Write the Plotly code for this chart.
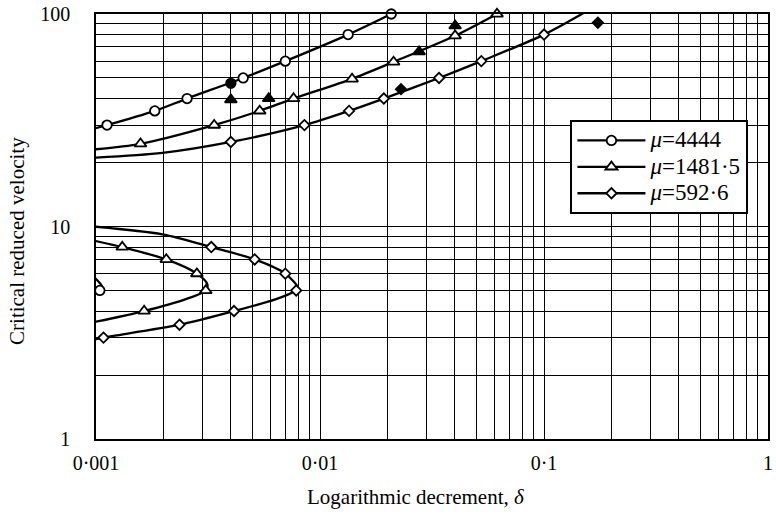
import plotly.graph_objects as go

# ---- data: logarithmic decrement (delta) vs critical reduced velocity ----
# mu = 4444
c4444_up_x = [0.00092, 0.00112, 0.00183, 0.00255, 0.00454, 0.0070, 0.01335, 0.0208]
c4444_up_y = [28.4, 30, 35, 40, 50, 60, 80, 100]
c4444_lo_x = [0.00092, 0.00101, 0.00106, 0.00104, 0.00097, 0.00092]
c4444_lo_y = [6.1, 5.6, 5.25, 5.0, 4.8, 4.7]
m4444_x = [0.00112, 0.00183, 0.00255, 0.00454, 0.0070, 0.01335, 0.0208, 0.00104]
m4444_y = [30, 35, 40, 50, 60, 80, 100, 5.0]
f4444_x = [0.004]
f4444_y = [47.2]

# mu = 1481.5
c1481_up_x = [0.00092, 0.00158, 0.00337, 0.00538, 0.00762, 0.0139, 0.0213, 0.0401, 0.0617]
c1481_up_y = [22.9, 24.5, 30, 35, 40, 49.5, 59.5, 79, 100]
c1481_lo_x = [0.00092, 0.00131, 0.00206, 0.00282, 0.00314, 0.00309, 0.00252, 0.00164, 0.00092]
c1481_lo_y = [8.7, 8.0, 7.0, 6.0, 5.35, 5.0, 4.55, 4.0, 3.5]
m1481_x = [0.00158, 0.00337, 0.00538, 0.00762, 0.0139, 0.0213, 0.0401, 0.0617,
           0.00131, 0.00206, 0.00282, 0.00309, 0.00164]
m1481_y = [24.5, 30, 35, 40, 49.5, 59.5, 79, 100, 8.0, 7.0, 6.0, 5.0, 4.0]
f1481_x = [0.004, 0.0059, 0.0277, 0.0401]
f1481_y = [39.5, 40, 66.5, 88]

# mu = 592.6
c592_up_x = [0.00092, 0.00198, 0.004, 0.00852, 0.01348, 0.01927, 0.034, 0.0525, 0.1, 0.152]
c592_up_y = [21.0, 22.2, 25, 30, 35, 40, 50, 60, 80, 101.8]
c592_lo_x = [0.00092, 0.00198, 0.00327, 0.00511, 0.0070, 0.00801, 0.00783, 0.00632,
             0.00413, 0.00236, 0.00108, 0.00092]
c592_lo_y = [10.05, 9.18, 8.0, 7.0, 6.0, 5.11, 5.0, 4.54, 4.0, 3.45, 3.0, 2.9]
m592_x = [0.004, 0.00852, 0.01348, 0.01927, 0.034, 0.0525, 0.1,
          0.00327, 0.00511, 0.0070, 0.00783, 0.00413, 0.00236, 0.00108]
m592_y = [25, 30, 35, 40, 50, 60, 80, 8.0, 7.0, 6.0, 5.0, 4.0, 3.45, 3.0]
f592_x = [0.023, 0.174]
f592_y = [44.3, 91]

series_names = ["4444", "1481·5", "592·6"]

x_ticks = [0.001, 0.01, 0.1, 1]
x_ticktext = ["0·001", "0·01", "0·1", "1"]
y_ticks = [1, 10, 100]
y_ticktext = ["1", "10", "100"]

FONT = "Liberation Serif, Times New Roman, serif"
LW = 2.3

fig = go.Figure()

def curve(x, y):
    fig.add_trace(go.Scatter(
        x=x, y=y, mode="lines", showlegend=False, hoverinfo="skip",
        line=dict(color="black", width=LW, shape="spline", smoothing=0.8)))

def points(x, y, symbol, size, fill):
    fig.add_trace(go.Scatter(
        x=x, y=y, mode="markers", showlegend=False, cliponaxis=False,
        marker=dict(symbol=symbol, size=size, color=fill,
                    line=dict(color="black", width=1.8))))

for cx, cy in [(c4444_up_x, c4444_up_y), (c4444_lo_x, c4444_lo_y),
               (c1481_up_x, c1481_up_y), (c1481_lo_x, c1481_lo_y),
               (c592_up_x, c592_up_y), (c592_lo_x, c592_lo_y)]:
    curve(cx, cy)

points(m4444_x, m4444_y, "circle", 9.5, "white")
points(f4444_x, f4444_y, "circle", 9.5, "black")
points(m1481_x, m1481_y, "triangle-up", 10.5, "white")
points(f1481_x, f1481_y, "triangle-up", 10.5, "black")
points(m592_x, m592_y, "diamond", 8, "white")
points(f592_x, f592_y, "diamond", 8, "black")

# legend entries
for name, sym, size in zip(series_names, ["circle", "triangle-up", "diamond"],
                           [9.5, 10.5, 8]):
    fig.add_trace(go.Scatter(
        x=[None], y=[None], mode="lines+markers", legendgroup="mu",
        name=f'<span style="font-size:23px"><i>μ</i>=' + name + "</span>",
        line=dict(color="black", width=LW),
        marker=dict(symbol=sym, size=size, color="white",
                    line=dict(color="black", width=1.8))))

minor_x = [m * 10 ** e for e in (-3, -2, -1) for m in range(2, 10)]
minor_y = [m * 10 ** e for e in (0, 1) for m in range(2, 10)]

fig.update_layout(
    width=776, height=517,
    margin=dict(l=96, r=3, t=11, b=78),
    paper_bgcolor="white", plot_bgcolor="white",
    font=dict(family=FONT, size=20, color="black"),
    legend=dict(x=0.706, y=0.75, xanchor="left", yanchor="top",
                bgcolor="white", bordercolor="black", borderwidth=2,
                font=dict(family=FONT, size=18), itemwidth=68,
                tracegroupgap=0),
    xaxis=dict(type="log", range=[-3, 0], tickmode="array",
               tickvals=x_ticks, ticktext=x_ticktext,
               showgrid=True, gridcolor="black", gridwidth=1,
               showline=True, linecolor="black", linewidth=1.5, mirror=True,
               ticks="inside", ticklen=5, tickcolor="black",
               ticklabelstandoff=5,
               minor=dict(tickmode="array", tickvals=minor_x, showgrid=True,
                          gridcolor="black", gridwidth=1, ticks=""),
               zeroline=False),
    yaxis=dict(type="log", range=[0, 2], tickmode="array",
               tickvals=y_ticks, ticktext=y_ticktext,
               showgrid=True, gridcolor="black", gridwidth=1,
               showline=True, linecolor="black", linewidth=1.5, mirror=True,
               ticks="", ticklabelstandoff=20,
               minor=dict(tickmode="array", tickvals=minor_y, showgrid=True,
                          gridcolor="black", gridwidth=1, ticks=""),
               zeroline=False),
    annotations=[
        dict(text="Logarithmic decrement, <i>δ</i>", xref="paper", yref="paper",
             x=0.4756, y=-0.1355, xanchor="center", yanchor="middle",
             showarrow=False, font=dict(size=21)),
        dict(text="Critical reduced velocity", xref="paper", yref="paper",
             x=-0.1167, y=0.465, xanchor="center", yanchor="middle",
             textangle=-90, showarrow=False, font=dict(size=21)),
    ],
)

fig.write_html("out.html")
